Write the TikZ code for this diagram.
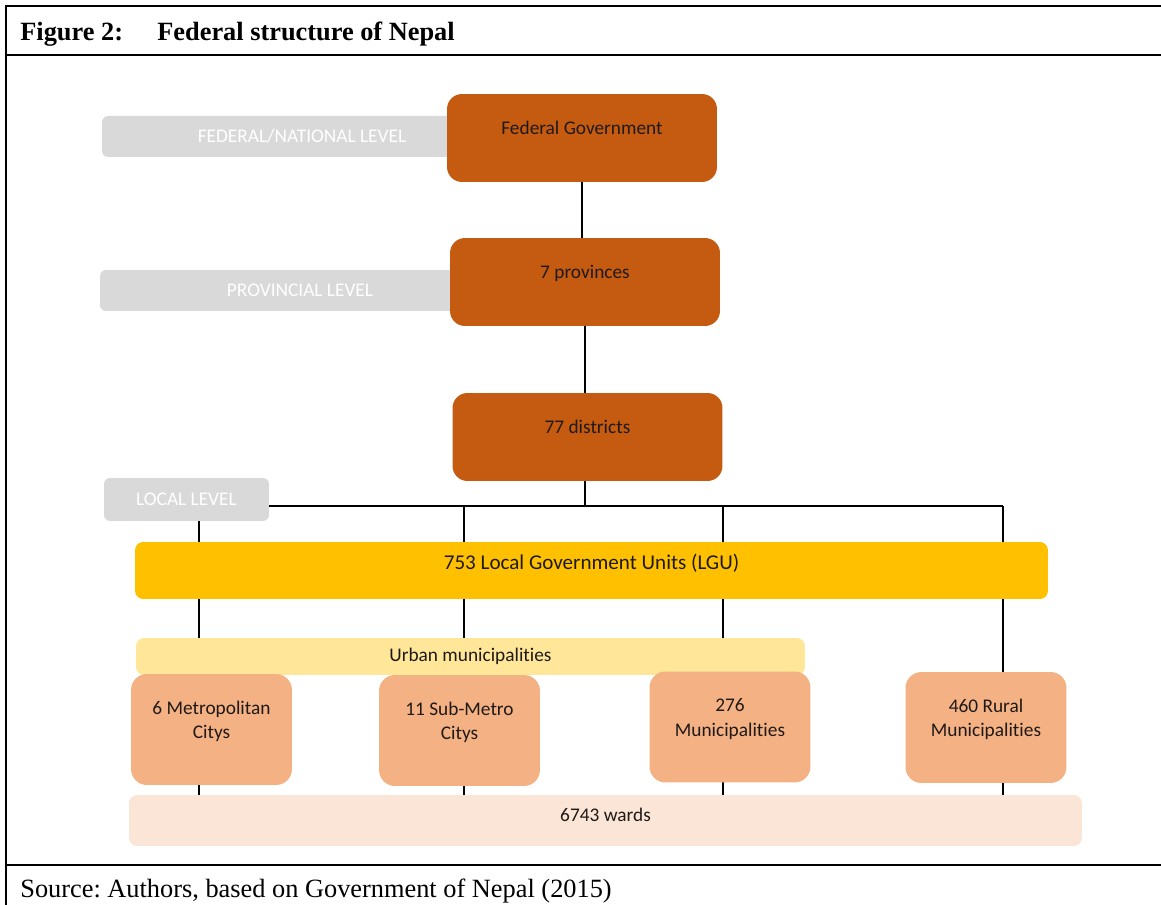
\documentclass[tikz,border=0pt]{standalone}
\usepackage{fontspec}
\setmainfont{Liberation Serif}
\newfontfamily\boxfont[Ligatures=NoCommon]{Carlito}
\usepackage{tikz}
\usetikzlibrary{backgrounds}
\usepackage{xcolor}
\definecolor{fedorange}{HTML}{C55A11}
\definecolor{lguyellow}{HTML}{FFC000}
\definecolor{urbanyellow}{HTML}{FFE699}
\definecolor{munorange}{HTML}{F4B183}
\definecolor{wardpeach}{HTML}{FBE5D6}
\definecolor{levelgrey}{HTML}{D9D9D9}
\definecolor{boxtext}{HTML}{1F1A17}
\frenchspacing

\begin{document}
\begin{tikzpicture}[x=0.02cm, y=-0.02cm,
    levelbox/.style={fill=levelgrey, rounded corners=0.12cm, text=white, minimum height=0.82cm, inner sep=0pt,
      font=\boxfont\fontsize{11}{13}\selectfont},
    govbox/.style={fill=fedorange, rounded corners=0.3cm, minimum width=5.4cm, inner sep=0pt,
      text height=0.82cm, text depth=0.94cm, text=boxtext, font=\boxfont\fontsize{11}{13}\selectfont},
    unitbox/.style={fill=munorange, rounded corners=0.32cm, minimum width=3.22cm, inner sep=0pt, align=center,
      text height=1.3cm, text depth=0.92cm, text=boxtext, font=\boxfont\fontsize{11}{14}\selectfont},
    barbox/.style={rounded corners=0.16cm, inner sep=0pt, text=boxtext, font=\boxfont\fontsize{11}{13}\selectfont},
    link/.style={line width=0.9pt},
    frame/.style={line width=1.4pt}]

  \useasboundingbox (0,0) rectangle (1161,905);

  \draw[frame] (1161,6) -- (6,6) -- (6,905);
  \draw[frame] (6,55) -- (1161,55);
  \draw[frame] (6,865) -- (1161,865);
  \node[anchor=base west, inner sep=0pt, font=\fontsize{15}{18}\selectfont\bfseries] (figlabel) at (20,41) {Figure 2:};
  \node[anchor=base west, inner sep=0pt, font=\fontsize{15}{18}\selectfont\bfseries] (figtitle) at (157,41) {Federal structure of Nepal};
  \node[anchor=base west, inner sep=0pt, font=\fontsize{15}{18}\selectfont] (source) at (20,897) {Source: Authors, based on Government of Nepal (2015)};

  \node[levelbox, minimum width=8cm] (natlevel) at (302,136.5) {FEDERAL/NATIONAL LEVEL};
  \node[levelbox, minimum width=8cm] (provlevel) at (300,290.5) {PROVINCIAL LEVEL};
  \node[levelbox, minimum width=3.3cm, minimum height=0.86cm] (loclevel) at (186.5,499.5) {LOCAL LEVEL};

  \node[govbox] (fedgov) at (582,138) {Federal Government};
  \node[govbox] (provinces) at (585,282) {7 provinces};
  \node[govbox] (districts) at (587.5,437) {77 districts};

  \node[barbox, fill=lguyellow, minimum width=18.26cm, text height=0.55cm, text depth=0.59cm,
    font=\boxfont\fontsize{12}{14}\selectfont] (lgu) at (591.5,570.5) {753 Local Government Units (LGU)};
  \node[barbox, fill=urbanyellow, minimum width=13.38cm, minimum height=0.74cm] (urban) at (470.5,656.5) {Urban municipalities};

  \node[unitbox] (metro) at (211.5,729.5) {6 Metropolitan\\Citys};
  \node[unitbox] (submetro) at (459.5,730.5) {11 Sub-Metro\\Citys};
  \node[unitbox] (muni) at (730,727) {276\\Municipalities};
  \node[unitbox] (rural) at (986,727.5) {460 Rural\\Municipalities};

  \node[barbox, fill=wardpeach, minimum width=19.06cm, text height=0.53cm, text depth=0.49cm] (wards) at (605.5,820.5) {6743 wards};

  \coordinate (bus) at (585,506);
  \coordinate (drop1) at (199,506);
  \coordinate (drop2) at (464,506);
  \coordinate (drop3) at (723,506);
  \coordinate (drop4) at (1003,506);

  \begin{scope}[on background layer]
    \draw[link] (fedgov.south) -- (fedgov.south |- provinces.north);
    \draw[link] (provinces.south) -- (provinces.south |- districts.north);
    \draw[link] (districts.south -| bus) -- (bus);
    \draw[link] (loclevel |- bus) -- (drop4);
    \draw[link] (drop1) -- (drop1 |- wards.north);
    \draw[link] (drop2) -- (drop2 |- wards.north);
    \draw[link] (drop3) -- (drop3 |- wards.north);
    \draw[link] (drop4) -- (drop4 |- wards.north);
  \end{scope}
\end{tikzpicture}
\end{document}
